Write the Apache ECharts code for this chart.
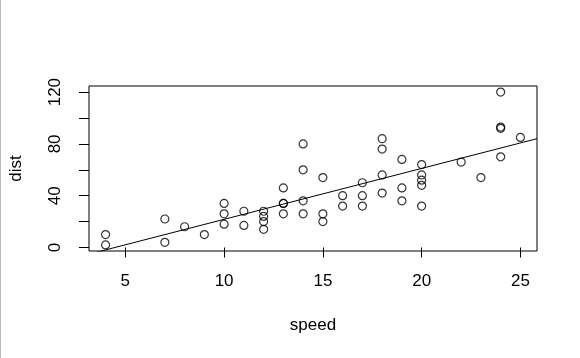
<!DOCTYPE html>
<html><head><meta charset="utf-8">
<script src="https://cdn.jsdelivr.net/npm/echarts@6/dist/echarts.min.js"></script>
<style>html,body{margin:0;padding:0;background:#fff}#c{width:580px;height:358px}</style>
</head><body><div id="c"></div>
<script>
const speed = [4,4,7,7,8,9,10,10,10,11,11,12,12,12,12,13,13,13,13,14,14,14,14,15,15,15,16,16,17,17,17,18,18,18,18,19,19,19,20,20,20,20,20,22,23,24,24,24,24,25];
const dist  = [2,10,4,22,16,10,18,26,34,17,28,14,20,24,28,26,34,34,46,26,36,60,80,20,26,54,32,40,32,40,50,42,56,76,84,36,46,68,32,48,52,56,64,66,54,70,92,93,120,85];
const xTicks = [5,10,15,20,25];
const yTicks = [0,20,40,60,80,100,120];
const yLabels = [0,40,80,120];

// least squares fit (as abline(lm(dist ~ speed)))
const n = speed.length;
const mx = speed.reduce((a,b)=>a+b,0)/n, my = dist.reduce((a,b)=>a+b,0)/n;
let sxy=0,sxx=0;
for(let i=0;i<n;i++){sxy+=(speed[i]-mx)*(dist[i]-my);sxx+=(speed[i]-mx)**2;}
const slope = sxy/sxx, intercept = my - slope*mx;

// R-style 4% axis extension
const xr=[Math.min(...speed),Math.max(...speed)], yr=[Math.min(...dist),Math.max(...dist)];
const xmin=xr[0]-0.04*(xr[1]-xr[0]), xmax=xr[1]+0.04*(xr[1]-xr[0]);
const ymin=yr[0]-0.04*(yr[1]-yr[0]), ymax=yr[1]+0.04*(yr[1]-yr[0]);

const pts = speed.map((s,i)=>[s,dist[i]]);
const fitLine = [[xmin, intercept+slope*xmin],[xmax, intercept+slope*xmax]];
const font = 'Liberation Sans, Arial, sans-serif';

const chart = echarts.init(document.getElementById('c'), null, {renderer:'canvas'});
chart.setOption({
  animation:false,
  backgroundColor:'#fff',
  grid:{left:87.5,right:43,top:86,bottom:107,show:true,borderColor:'#000',borderWidth:1,backgroundColor:'transparent'},
  xAxis:{type:'value',min:xmin,max:xmax,
    name:'speed',nameLocation:'middle',nameGap:66,
    nameTextStyle:{fontFamily:font,fontSize:17,color:'#000'},
    axisLine:{show:false},splitLine:{show:false},
    axisTick:{show:true,length:10,customValues:xTicks,lineStyle:{color:'#000'}},
    axisLabel:{customValues:xTicks,margin:22,fontFamily:font,fontSize:17,color:'#000'}},
  yAxis:{type:'value',min:ymin,max:ymax,
    name:'dist',nameLocation:'middle',nameGap:64,nameRotate:90,
    nameTextStyle:{fontFamily:font,fontSize:17,color:'#000'},
    axisLine:{show:false},splitLine:{show:false},
    axisTick:{show:true,length:10,customValues:yTicks,lineStyle:{color:'#000'}},
    axisLabel:{customValues:yLabels,rotate:90,margin:25,fontFamily:font,fontSize:17,color:'#000'}},
  graphic:[{type:'line',shape:{x1:0.5,y1:0,x2:0.5,y2:358},style:{stroke:'#bbb',lineWidth:1}}],
  series:[
    {type:'scatter',data:pts,symbol:'circle',symbolSize:8,
     itemStyle:{color:'rgba(0,0,0,0)',borderColor:'#000',borderWidth:1.2}},
    {type:'line',data:fitLine,symbol:'none',clip:true,lineStyle:{color:'#000',width:1}}
  ]
});
</script></body></html>
